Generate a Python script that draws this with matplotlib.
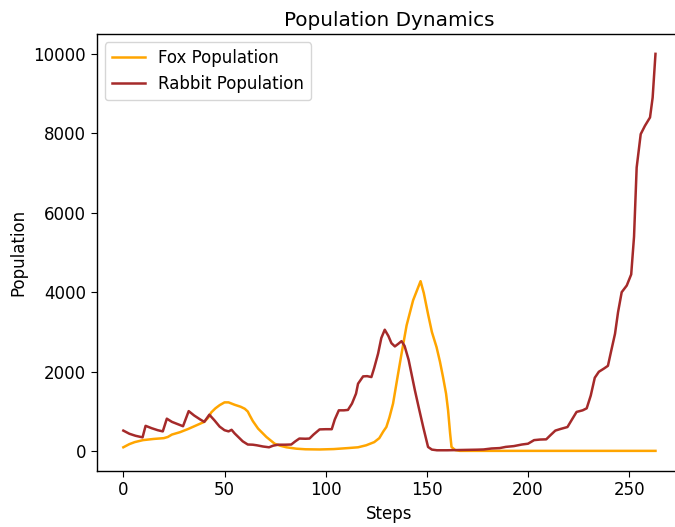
import numpy as np
import matplotlib
matplotlib.use("Agg")
import matplotlib.pyplot as plt

# fox population, sampled at the listed steps
fox_steps = [0, 3, 5.6, 9.7, 15, 20, 22, 24, 28, 32, 36, 40, 42, 43.5, 45.5,
             47.6, 50, 52, 55, 58, 60, 61.5, 62.5, 64, 66.6, 70.7, 74.8, 77.5,
             80.6, 85.5, 90, 97, 104, 111, 116, 120, 124, 126.5, 128.5, 130,
             131.5, 133.3, 135.8, 137.5, 140, 143.2, 146.9, 148.5, 150.6,
             152.5, 154.8, 156.5, 158, 159.5, 160.5, 161.5, 162.2, 164, 166.3,
             200, 263]
fox_pop = [100, 180, 230, 280, 310, 330, 360, 420, 480, 560, 650, 740, 850,
           980, 1080, 1160, 1230, 1230, 1170, 1120, 1070, 1000, 900, 760, 570,
           360, 190, 140, 100, 65, 50, 45, 55, 80, 100, 150, 230, 330, 500,
           611, 850, 1199, 1953, 2456, 3168, 3797, 4280, 3980, 3450, 3000,
           2620, 2250, 1867, 1450, 1030, 450, 108, 30, 10, 10, 10]

# rabbit population, sampled at the listed steps
rabbit_steps = [0, 3, 6, 9.5, 11, 14, 17, 19.5, 21.5, 24, 27, 29.5, 32.3, 35,
                38, 40, 42.5, 45, 47.6, 50, 52, 53.5, 55, 57, 59, 61.5, 64, 66,
                69, 72, 74, 76.5, 80, 83, 85, 87, 90, 92, 94, 97, 100, 103,
                104.5, 106.5, 109, 111, 113, 115, 116, 118.5, 120.5, 122.6,
                124, 125.9, 127.5, 129.2, 131, 132.5, 134.2, 135.8, 137.5, 139,
                141, 144.1, 146, 148.2, 150.6, 152.5, 155, 160, 165, 170, 175,
                178, 182, 186, 189, 193, 197, 200, 203, 206, 209, 211, 213.5,
                216, 219.5, 221.5, 224, 227, 229, 231, 233, 235, 237.5, 239.5,
                241, 243, 244.5, 246.3, 248.8, 251, 252.4, 253.7, 255.7, 257.8,
                260.3, 261.6, 263]
rabbit_pop = [520, 440, 390, 350, 640, 580, 530, 500, 820, 740, 680, 630,
              1010, 900, 800, 740, 920, 780, 620, 530, 500, 540, 450, 350, 250,
              170, 165, 150, 120, 100, 140, 165, 165, 170, 250, 320, 315, 320,
              420, 550, 555, 555, 800, 1030, 1030, 1040, 1200, 1450, 1700,
              1884, 1890, 1867, 2100, 2456, 2850, 3058, 2900, 2720, 2638, 2700,
              2771, 2650, 2300, 1533, 1100, 611, 108, 42, 25, 25, 30, 35, 40,
              45, 70, 80, 110, 130, 170, 190, 280, 295, 300, 400, 520, 560,
              610, 780, 990, 1030, 1080, 1400, 1850, 2000, 2080, 2150, 2500,
              2956, 3500, 4003, 4170, 4450, 5400, 7140, 7980, 8190, 8400, 8900,
              10000]

plt.rcParams["font.size"] = 12
plt.rcParams["axes.linewidth"] = 1.0
plt.rcParams["xtick.major.size"] = 4.2
plt.rcParams["ytick.major.size"] = 4.2

fig = plt.figure(figsize=(6.75, 5.27), dpi=100)
ax = fig.add_axes([0.1433, 0.1068, 0.8672, 0.8287])

ax.plot(fox_steps, fox_pop, color="orange", linewidth=1.8, label="Fox Population")
ax.plot(rabbit_steps, rabbit_pop, color="brown", linewidth=1.8, label="Rabbit Population")

ax.set_title("Population Dynamics", fontsize=14.4)
ax.set_xlabel("Steps")
ax.set_ylabel("Population")
ax.spines["right"].set_visible(False)
ax.legend(loc="upper left")

fig.savefig("out.png", dpi=100)
